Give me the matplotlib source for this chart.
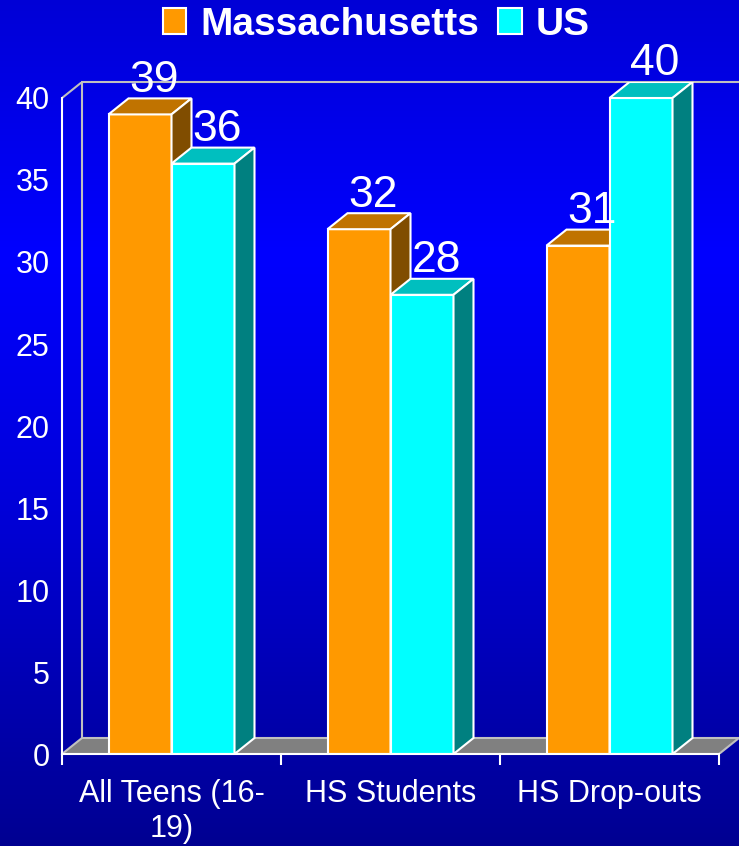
import numpy as np
import matplotlib
matplotlib.use("Agg")
import matplotlib.pyplot as plt
from matplotlib.patches import Polygon, Patch

plt.rcParams["font.family"] = ["Liberation Sans", "DejaVu Sans"]

categories = ["All Teens (16-\n19)", "HS Students", "HS Drop-outs"]
series_names = ["Massachusetts", "US"]
mass_values = [39, 32, 31]
us_values = [36, 28, 40]
y_ticks = [0, 5, 10, 15, 20, 25, 30, 35, 40]

# face colours: front, top, side
mass_cols = ("#ff9900", "#c07300", "#804d00")
us_cols = ("#00ffff", "#00bfbf", "#008080")

bar_w = 63 / 219          # bar width in category units
dx = 20 / 219             # 3D depth, x
dy = 16 / 16.4            # 3D depth, y (value units)

fig = plt.figure(figsize=(7.39, 8.46), dpi=100)

# blue gradient backdrop
bg = fig.add_axes([0, 0, 1, 1], zorder=-10)
t = np.linspace(0, 1, 400)
blue = np.interp(t, [0, 0.3, 0.6, 1.0], [0.84, 1.0, 0.85, 0.57])
img = np.zeros((400, 1, 3))
img[:, 0, 2] = blue
bg.imshow(img, aspect="auto", extent=[0, 1, 0, 1], origin="upper")
bg.axis("off")

W, H = 739, 846
ax = fig.add_axes([62 / W, 92 / H, 677 / W, 672 / H])
ax.set_facecolor("none")
ax.set_xlim(0, 3 + dx)
ax.set_ylim(0, 40 + dy)

grey_edge = "#c0c0c0"
# back wall edges and diagonal at top-left
ax.plot([dx, dx], [dy, 40 + dy], color=grey_edge, lw=1.5, zorder=1)
ax.plot([dx, 3 + dx], [40 + dy, 40 + dy], color=grey_edge, lw=1.5, zorder=1, clip_on=False)
ax.plot([0, dx], [40, 40 + dy], color=grey_edge, lw=1.5, zorder=1)
# floor
ax.add_patch(Polygon([(0, 0), (3, 0), (3 + dx, dy), (dx, dy)], closed=True,
                     facecolor="#808080", edgecolor=grey_edge, lw=1.5, zorder=1))


def bar3d(x0, v, cols, z):
    ax.bar(x0, v, width=bar_w, align="edge", color=cols[0], edgecolor="white",
           lw=1.5, zorder=z)
    x1 = x0 + bar_w
    ax.add_patch(Polygon([(x0, v), (x1, v), (x1 + dx, v + dy), (x0 + dx, v + dy)],
                         closed=True, facecolor=cols[1], edgecolor="white", lw=1.5, zorder=z))
    ax.add_patch(Polygon([(x1, 0), (x1 + dx, dy), (x1 + dx, v + dy), (x1, v)],
                         closed=True, facecolor=cols[2], edgecolor="white", lw=1.5, zorder=z))
    ax.text(x0 + bar_w / 2 + dx * 0.7, v + dy - 0.15, str(v), ha="center", va="bottom",
            color="white", fontsize=32, zorder=z + 10)


for i in range(len(categories)):
    c = i + 0.5
    bar3d(c - bar_w, mass_values[i], mass_cols, 3 + 2 * i)
    bar3d(c, us_values[i], us_cols, 4 + 2 * i)

# axes styling
for s in ["top", "right"]:
    ax.spines[s].set_visible(False)
for s in ["left", "bottom"]:
    ax.spines[s].set_color("white")
    ax.spines[s].set_linewidth(1.5)
    ax.spines[s].set_zorder(20)
ax.spines["left"].set_bounds(0, 40)
ax.spines["bottom"].set_bounds(0, 3)

ax.set_yticks(y_ticks)
ax.tick_params(axis="y", length=0, pad=9, labelcolor="white", labelsize=22)
ax.set_xticks([0, 1, 2, 3])
ax.set_xticklabels([])
ax.tick_params(axis="x", which="major", length=8, width=1.5, color="white", direction="out")
ax.set_xticks([0.5, 1.5, 2.5], minor=True)
ax.set_xticklabels(categories, minor=True)
ax.tick_params(axis="x", which="minor", length=0, pad=18, labelcolor="white", labelsize=22)

handles = [Patch(facecolor=mass_cols[0], edgecolor="white", lw=1.5),
           Patch(facecolor=us_cols[0], edgecolor="white", lw=1.5)]
leg = fig.legend(handles, series_names, loc="center", bbox_to_anchor=(0.509, 1 - 25 / H),
                 ncol=2, frameon=False, handlelength=0.6, handleheight=0.65,
                 handletextpad=0.35, columnspacing=0.5,
                 prop={"weight": "bold", "size": 28})
for txt in leg.get_texts():
    txt.set_color("white")

fig.savefig("out.png", dpi=100)
